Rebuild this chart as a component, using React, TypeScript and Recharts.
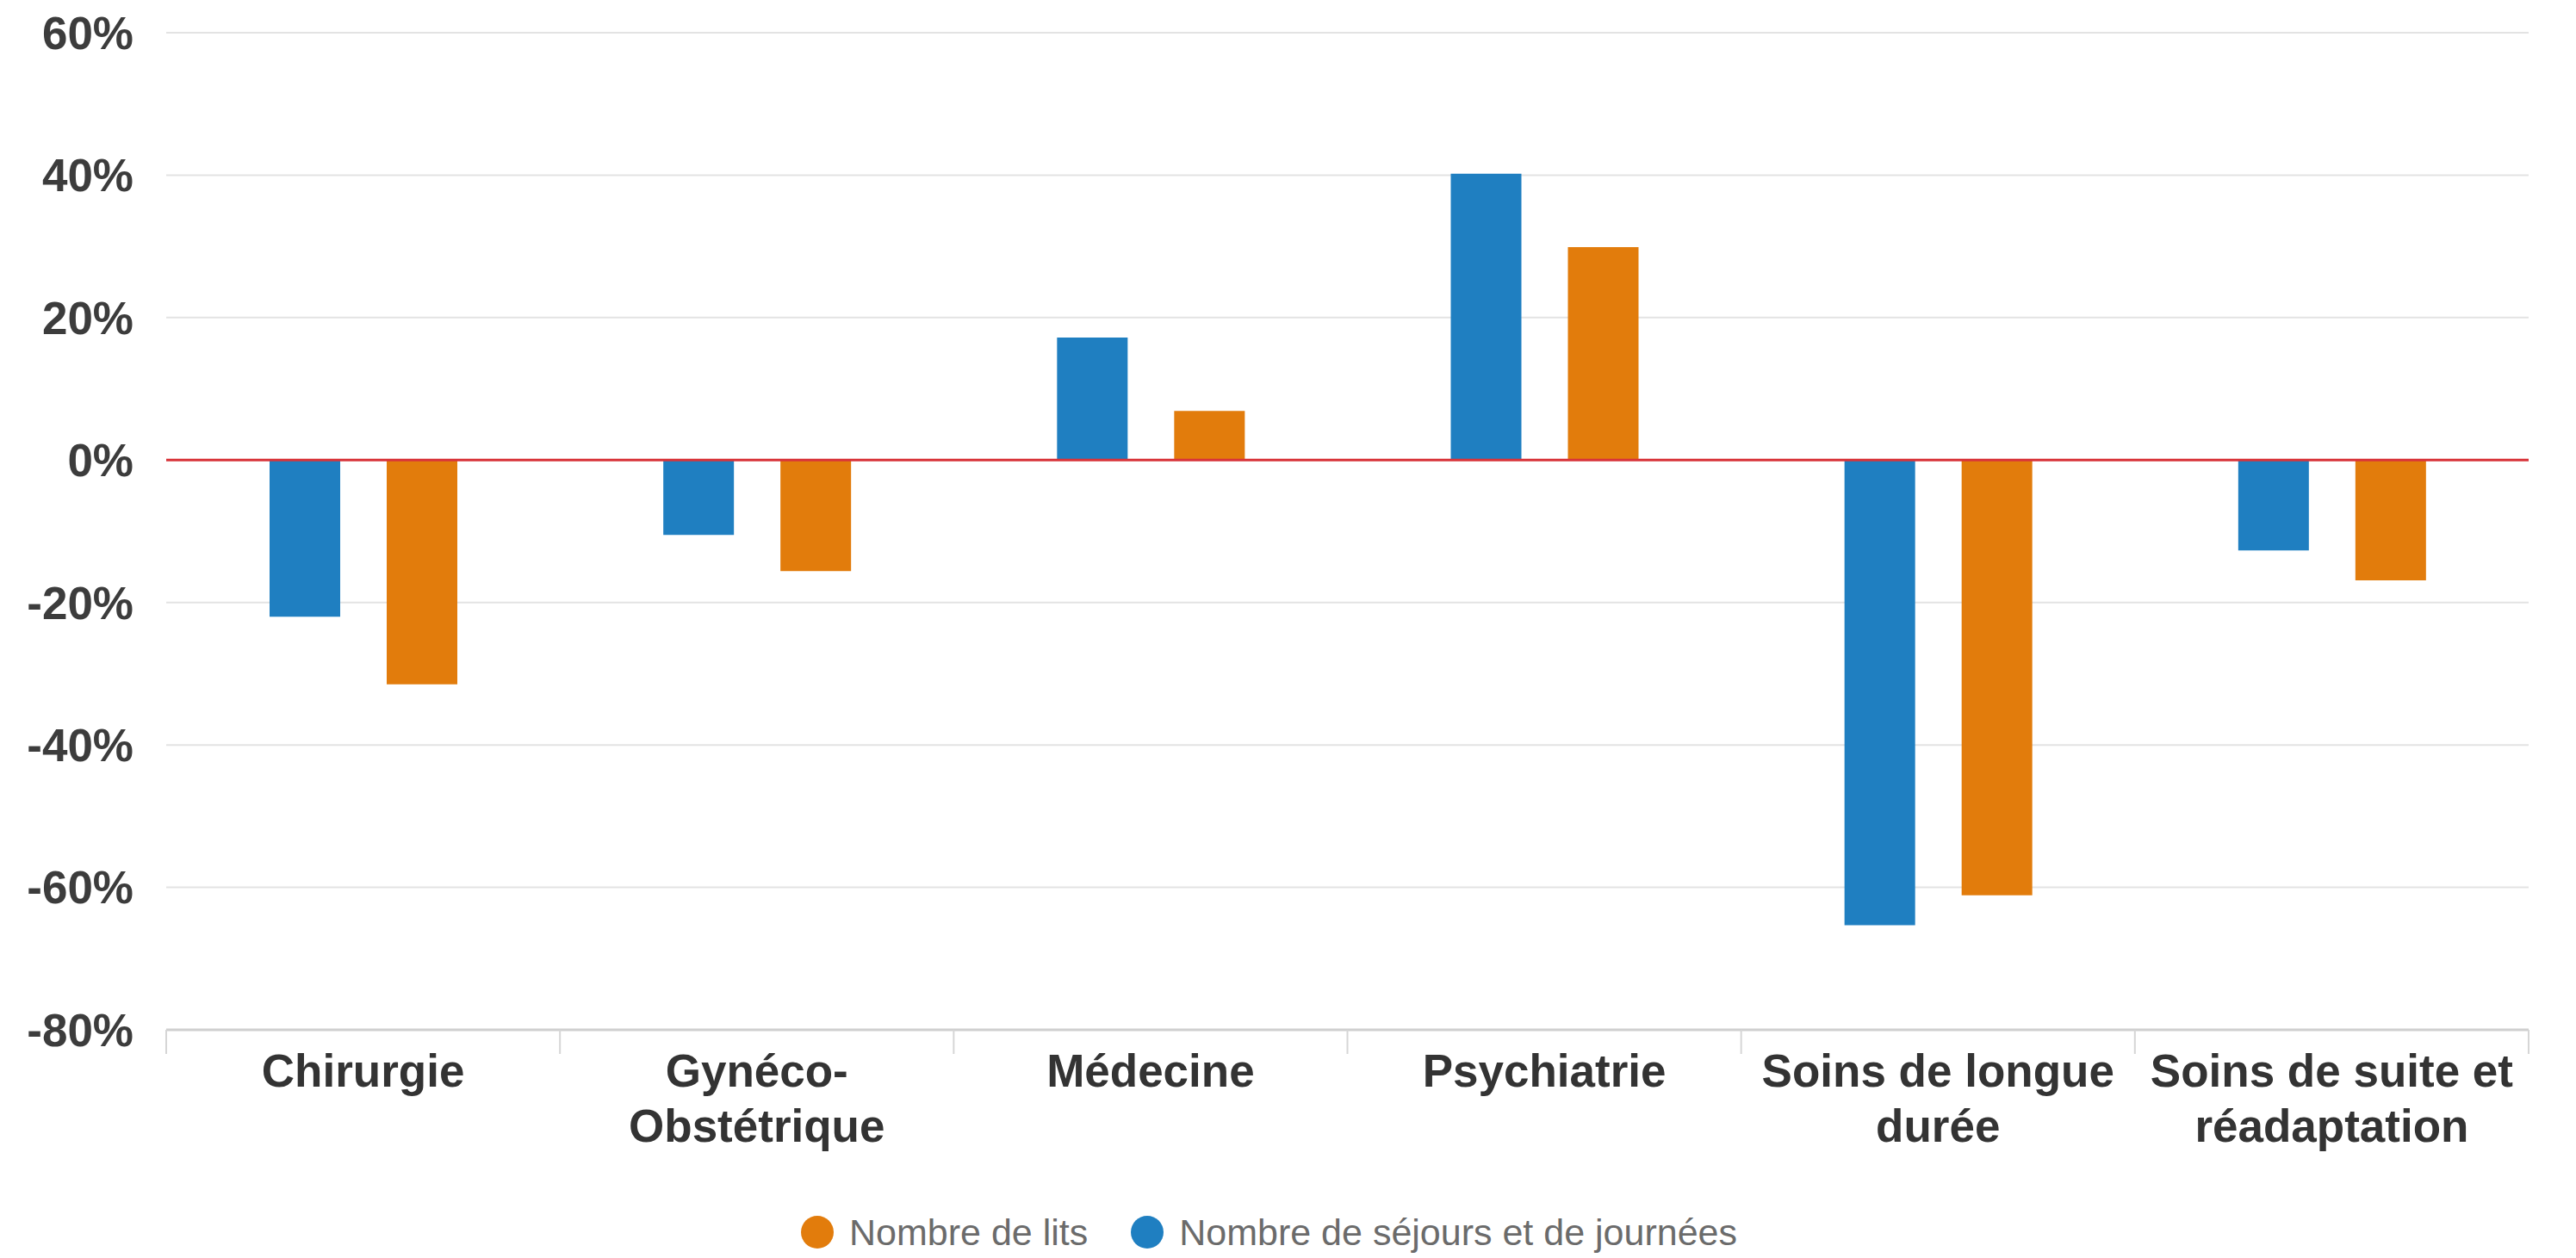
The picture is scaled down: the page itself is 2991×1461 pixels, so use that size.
import { BarChart, Bar, XAxis, YAxis, CartesianGrid, ReferenceLine, Legend } from "recharts";

const categories = [
  "Chirurgie",
  "Gynéco-Obstétrique",
  "Médecine",
  "Psychiatrie",
  "Soins de longue durée",
  "Soins de suite et réadaptation",
];
const labelLines = [
  ["Chirurgie"],
  ["Gynéco-", "Obstétrique"],
  ["Médecine"],
  ["Psychiatrie"],
  ["Soins de longue", "durée"],
  ["Soins de suite et", "réadaptation"],
];
// variation en %
const sejours = [-22, -10.5, 17.2, 40.2, -65.3, -12.7];
const lits = [-31.5, -15.6, 6.9, 29.9, -61.1, -16.9];
const yTicks = [-80, -60, -40, -20, 0, 20, 40, 60];
const legendOrder = ["lits", "sejours"];

const data = categories.map((c, i) => ({ name: c, sejours: sejours[i], lits: lits[i] }));

const FONT = "'Liberation Sans', Arial, Helvetica, sans-serif";

function CategoryTick(props: any) {
  const { x, y, payload, index } = props;
  const i = payload?.index ?? index;
  const half = payload?.offset ?? 0;
  const lines = labelLines[i] || [String(payload.value)];
  return (
    <g>
      <line x1={x - half} y1={y} x2={x - half} y2={y + 28} stroke="#d6d6d6" strokeWidth={2} />
      {i === categories.length - 1 && (
        <line x1={x + half} y1={y} x2={x + half} y2={y + 28} stroke="#d6d6d6" strokeWidth={2} />
      )}
      <text x={x} y={y} textAnchor="middle" fontSize={53} fontWeight="bold" fill="#333" fontFamily={FONT}>
        {lines.map((l, k) => (
          <tspan key={k} x={x} y={y + 66 + k * 64}>
            {l}
          </tspan>
        ))}
      </text>
    </g>
  );
}

function renderLegend(props: any) {
  const items = [...(props.payload || [])].sort(
    (a: any, b: any) => legendOrder.indexOf(a.dataKey) - legendOrder.indexOf(b.dataKey)
  );
  return (
    <div
      style={{
        display: "flex",
        alignItems: "center",
        height: 70,
        paddingTop: 10,
        paddingLeft: 930,
        boxSizing: "border-box",
        fontFamily: FONT,
      }}
    >
      {items.map((it: any, k: number) => (
        <div key={k} style={{ display: "flex", alignItems: "center", marginRight: 50 }}>
          <span
            style={{
              display: "inline-block",
              width: 38,
              height: 38,
              borderRadius: "50%",
              background: it.color,
              marginRight: 18,
            }}
          />
          <span style={{ fontSize: 43, color: "#6b6b6b" }}>{it.value}</span>
        </div>
      ))}
    </div>
  );
}

export default function App() {
  return (
    <div style={{ position: "absolute", left: 0, top: 0, width: 2991, height: 1461, background: "#fff", fontFamily: FONT }}>
      <BarChart
        width={2991}
        height={1461}
        data={data}
        margin={{ top: 38, right: 55, left: 0, bottom: 0 }}
        barSize={82}
        barGap={54}
      >
        <CartesianGrid vertical={false} stroke="#e3e3e3" strokeWidth={2} />
        <XAxis
          dataKey="name"
          height={195}
          interval={0}
          tickLine={false}
          tickSize={0}
          tickMargin={0}
          axisLine={{ stroke: "#cfcfcf", strokeWidth: 3 }}
          tick={<CategoryTick />}
        />
        <YAxis
          width={193}
          domain={[-80, 60]}
          ticks={yTicks}
          interval={0}
          axisLine={false}
          tickLine={false}
          tickSize={0}
          tickMargin={38}
          tickFormatter={(v: number) => `${v}%`}
          tick={{ fontSize: 53, fontWeight: "bold", fill: "#3c3c3c", fontFamily: FONT }}
        />
        <Bar dataKey="sejours" name="Nombre de séjours et de journées" fill="#1f7fc1" isAnimationActive={false} />
        <Bar dataKey="lits" name="Nombre de lits" fill="#e27c0c" isAnimationActive={false} />
        <ReferenceLine y={0} stroke="#d9343a" strokeWidth={3} />
        <Legend
          verticalAlign="bottom"
          height={70}
          content={renderLegend}
          wrapperStyle={{ left: 0, width: 2991 }}
        />
      </BarChart>
    </div>
  );
}
